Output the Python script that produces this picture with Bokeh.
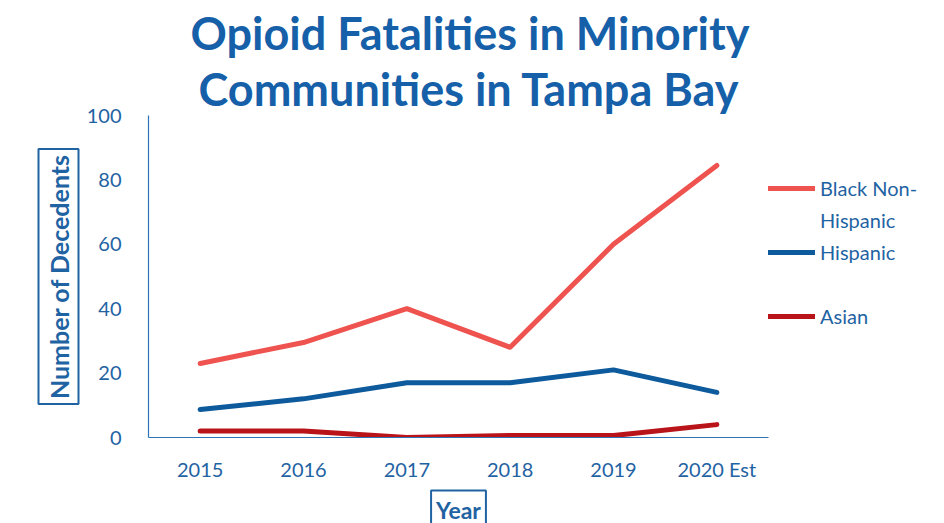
from bokeh.plotting import figure
from bokeh.models import Legend, LegendItem, Range1d, FixedTicker, Title
from bokeh.embed import file_html
from bokeh.resources import INLINE

years = ["2015", "2016", "2017", "2018", "2019", "2020 Est"]
black_non_hispanic = [23, 29.5, 40, 28, 60, 84.5]
hispanic = [8.7, 12, 17, 17, 21, 14]
asian = [2, 2, 0, 0.6, 0.6, 4]
y_ticks = [0, 20, 40, 60, 80, 100]

FONT = "Lato"
TXT = "#1f63a3"
TITLE_C = "#1560a8"

p = figure(x_range=years, y_range=Range1d(0, 100),
           frame_width=620, frame_height=322,
           output_backend="svg", toolbar_location=None,
           min_border_left=148, min_border_right=160,
           min_border_top=115, min_border_bottom=70)
p.outline_line_color = None
p.xgrid.grid_line_color = None
p.ygrid.grid_line_color = None

for ax in (p.xaxis[0], p.yaxis[0]):
    ax.axis_line_color = "#2e74b5"
    ax.axis_line_width = 1.2
    ax.major_tick_line_color = None
    ax.minor_tick_line_color = None
    ax.major_label_text_font = FONT
    ax.major_label_text_font_size = "20px"
    ax.major_label_text_color = TXT
p.yaxis.ticker = FixedTicker(ticks=y_ticks)
p.yaxis.major_label_standoff = 21
p.xaxis.major_label_standoff = 13

r1 = p.line(years, black_non_hispanic, line_color="#ef5350", line_width=5, line_join="round", line_cap="round")
r2 = p.line(years, hispanic, line_color="#0d5a9c", line_width=5, line_join="round", line_cap="round")
r3 = p.line(years, asian, line_color="#b8141a", line_width=5, line_join="round", line_cap="round")
# invisible helper renderer for legend text rows without a swatch
blank = p.line(years, asian, line_alpha=0)

legend = Legend(items=[LegendItem(label="Black Non-", renderers=[r1]),
                       LegendItem(label="Hispanic", renderers=[blank]),
                       LegendItem(label="Hispanic", renderers=[r2]),
                       LegendItem(label=" ", renderers=[blank]),
                       LegendItem(label="Asian", renderers=[r3])],
                location=(0, 106), padding=0, margin=0, spacing=1,
                glyph_width=47, label_standoff=5, label_height=31,
                border_line_color=None, background_fill_alpha=0,
                label_text_font=FONT, label_text_font_size="20px",
                label_text_color=TXT)
p.add_layout(legend, "right")

p.add_layout(Title(text="Communities in Tampa Bay", align="left", offset=50, standoff=0,
                   text_font=FONT, text_font_size="45px", text_font_style="bold",
                   text_color=TITLE_C), "above")
p.add_layout(Title(text="Opioid Fatalities in Minority", align="left", offset=42, standoff=0,
                   text_font=FONT, text_font_size="45px", text_font_style="bold",
                   text_color=TITLE_C), "above")

p.add_layout(Title(text="Number of Decedents", align="center",
                   text_font=FONT, text_font_size="25px", text_font_style="bold",
                   text_color=TXT, border_line_color="#1f63a3", border_line_width=2,
                   padding=5), "left")
p.add_layout(Title(text="Year", align="center", standoff=10,
                   text_font=FONT, text_font_size="23px", text_font_style="bold",
                   text_color=TXT, border_line_color="#1f63a3", border_line_width=2,
                   padding=5), "below")

open("out.html", "w").write(file_html(p, INLINE))
